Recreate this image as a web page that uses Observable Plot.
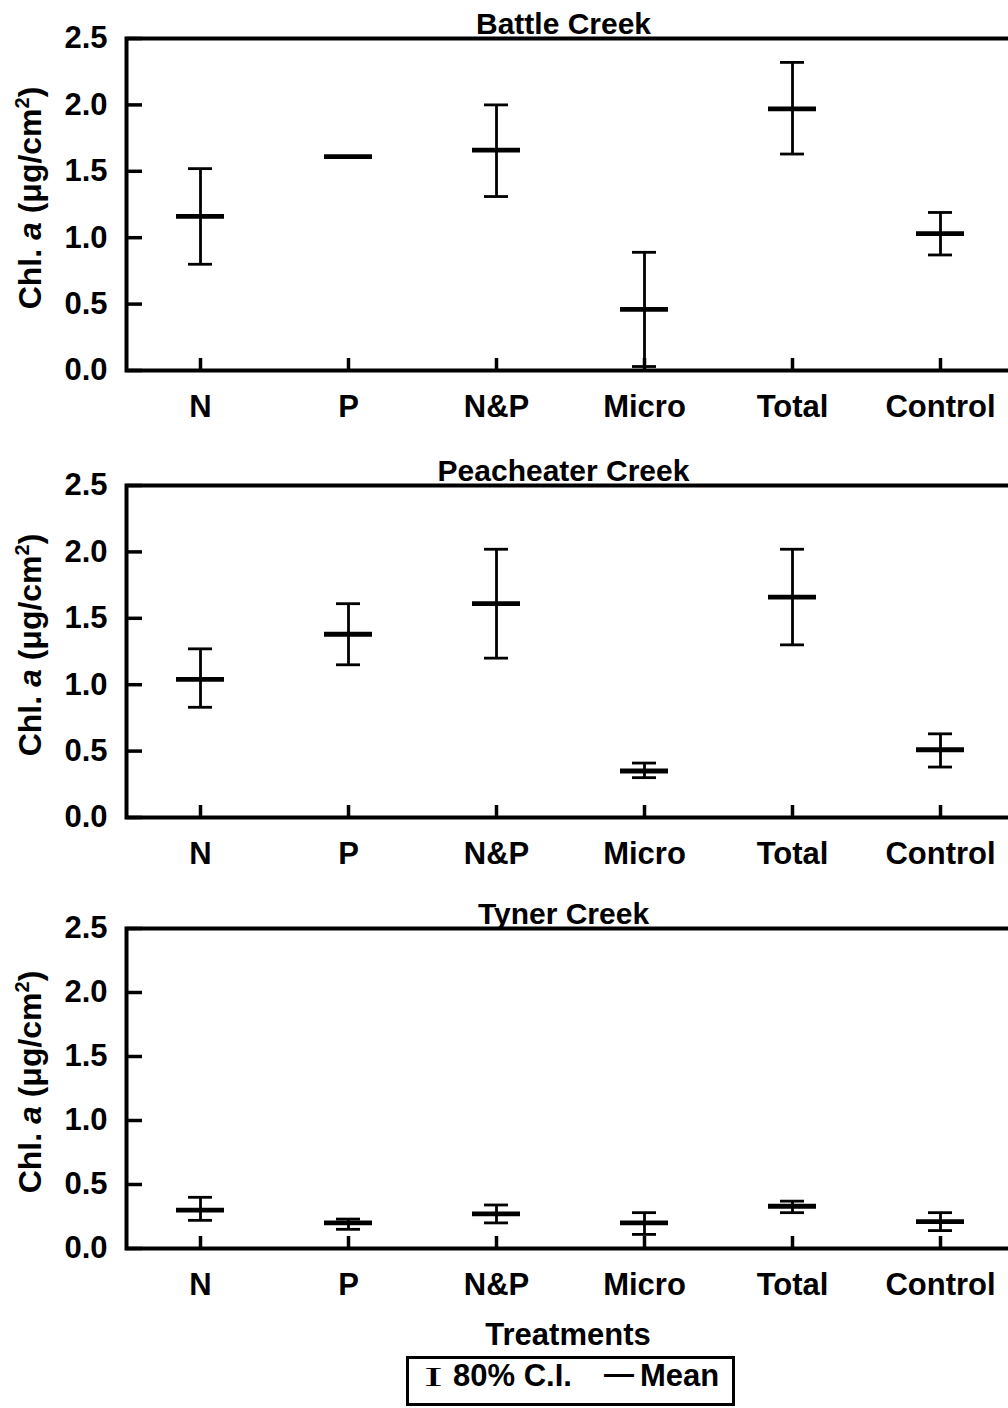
<!DOCTYPE html>
<html>
<head>
<meta charset="utf-8">
<script src="https://cdn.jsdelivr.net/npm/d3@7"></script>
<script src="https://cdn.jsdelivr.net/npm/@observablehq/plot@0.6"></script>
<style>
html, body { margin: 0; padding: 0; background: #fff; overflow: hidden; }
#wrap { position: relative; width: 1008px; height: 1408px; overflow: hidden; background: #fff;
  font-family: "Liberation Sans", Arial, Helvetica, sans-serif; font-weight: bold; color: #000; }
.panel { position: absolute; left: 0; max-width: none !important; }
.ylab { position: absolute; left: 30px; white-space: nowrap; font-size: 32px; line-height: 32px;
  transform: translate(-50%, -50%) rotate(-90deg); }
.ylab sup { font-size: 20px; vertical-align: 12px; line-height: 0; }
.abs { position: absolute; white-space: nowrap; line-height: 30px; font-size: 30px; }
#legend { position: absolute; left: 406px; top: 1356px; width: 323px; height: 44px; border: 3px solid #000; }
</style>
</head>
<body>
<div id="wrap"></div>
<script>
// ---- data ----
const treatments = ["N", "P", "N&P", "Micro", "Total", "Control"];
const creeks = ["Battle Creek", "Peacheater Creek", "Tyner Creek"];
const yTicks = [0, 0.5, 1.0, 1.5, 2.0, 2.5];

const battleMean = [1.16, 1.61, 1.66, 0.46, 1.97, 1.03];
const battleLow  = [0.80, null, 1.31, 0.03, 1.63, 0.87];
const battleHigh = [1.52, null, 2.00, 0.89, 2.32, 1.19];

const peacheaterMean = [1.04, 1.38, 1.61, 0.35, 1.66, 0.51];
const peacheaterLow  = [0.83, 1.15, 1.20, 0.30, 1.30, 0.38];
const peacheaterHigh = [1.27, 1.61, 2.02, 0.41, 2.02, 0.63];

const tynerMean = [0.30, 0.20, 0.27, 0.20, 0.33, 0.21];
const tynerLow  = [0.22, 0.15, 0.20, 0.11, 0.28, 0.14];
const tynerHigh = [0.40, 0.23, 0.34, 0.28, 0.37, 0.28];

const series = [
  [battleMean, battleLow, battleHigh],
  [peacheaterMean, peacheaterLow, peacheaterHigh],
  [tynerMean, tynerLow, tynerHigh]
];

// ---- layout ----
const layout = [
  {top: 0, h: 332},
  {top: 447, h: 332},
  {top: 890, h: 320}
];
const mTop = 38, mBottom = 60, mLeft = 126, mRight = 6, W = 1020;
const font = '"Liberation Sans", Arial, Helvetica, sans-serif';

const wrap = document.getElementById("wrap");

creeks.forEach((creek, i) => {
  const [mean, lo, hi] = series[i];
  const rows = treatments.map((t, j) => ({t, mean: mean[j], lo: lo[j], hi: hi[j]}));
  const ci = rows.filter(d => d.lo != null && d.hi != null);
  const {top, h} = layout[i];
  const chart = Plot.plot({
    width: W,
    height: mTop + h + mBottom,
    marginTop: mTop, marginBottom: mBottom, marginLeft: mLeft, marginRight: mRight,
    style: {fontFamily: font, fontWeight: "bold", background: "transparent", color: "#000", overflow: "visible", maxWidth: "none"},
    x: {type: "band", domain: treatments, paddingInner: 0.676, paddingOuter: 0.338, label: null},
    y: {domain: [0, 2.5], label: null},
    marks: [
      Plot.axisY(yTicks, {tickSize: -16, tickPadding: 35, strokeWidth: 3.5, fontSize: 31,
        tickFormat: d => d.toFixed(1), label: null}),
      Plot.axisX({tickSize: -12, tickPadding: 36, strokeWidth: 3.5, fontSize: 31, label: null}),
      Plot.ruleX(ci, {x: "t", y1: "lo", y2: "hi", strokeWidth: 2.8}),
      Plot.tickY(ci, {x: "t", y: "lo", strokeWidth: 2.8, insetLeft: 12, insetRight: 12}),
      Plot.tickY(ci, {x: "t", y: "hi", strokeWidth: 2.8, insetLeft: 12, insetRight: 12}),
      Plot.tickY(rows, {x: "t", y: "mean", strokeWidth: 4.8}),
      Plot.frame({strokeWidth: 4}),
      Plot.text([creek], {text: d => d, frameAnchor: "top", lineAnchor: "bottom", dy: -5, dx: -7,
        fontSize: 30, fontWeight: "bold"})
    ]
  });
  chart.classList.add("panel");
  chart.style.top = top + "px";
  wrap.appendChild(chart);

  const lab = document.createElement("div");
  lab.className = "ylab";
  lab.style.top = (top + mTop + h / 2 - 6) + "px";
  lab.innerHTML = 'Chl. <i>a</i> (\u03BCg/cm<sup>2</sup>)';
  wrap.appendChild(lab);
});

// x-axis title
const xt = document.createElement("div");
xt.className = "abs";
xt.style.left = "568px";
xt.style.top = "1320px";
xt.style.fontSize = "31px";
xt.style.transform = "translateX(-50%)";
xt.textContent = "Treatments";
wrap.appendChild(xt);

// legend
const legend = document.createElement("div");
legend.id = "legend";
wrap.appendChild(legend);
const items = [
  {text: "I", left: 15, top: 17, style: 'font-family:"Liberation Serif","Times New Roman",serif;font-weight:normal;font-size:28px;transform:scaleX(2);transform-origin:left center;'},
  {text: "80% C.I.", left: 44, top: 16, style: "font-size:31px;"},
  {text: "\u2014", left: 195, top: 14, style: ""},
  {text: "Mean", left: 231, top: 16, style: "font-size:31px;"}
];
items.forEach(it => {
  const s = document.createElement("div");
  s.className = "abs";
  s.style.cssText += `left:${it.left}px;top:${it.top - 14}px;` + it.style;
  s.textContent = it.text;
  legend.appendChild(s);
});
</script>
</body>
</html>
